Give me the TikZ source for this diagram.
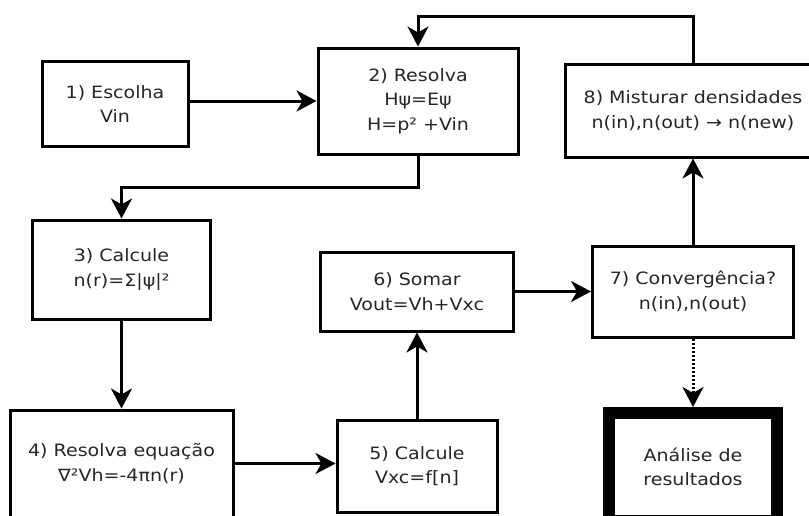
\documentclass[tikz,border=0pt]{standalone}
\usepackage{fontspec}
\setmainfont{DejaVu Sans}[FakeStretch=1.12]
\usetikzlibrary{arrows.meta}
\begin{document}
\begin{tikzpicture}[x=1pt,y=-1pt,
  box/.style={draw=black,line width=3pt,fill=white,align=center,inner sep=0pt,
    font=\fontsize{17}{24.5}\selectfont,text=black!85},
  arr/.style={line width=3pt,-{Stealth[length=20pt,width=21pt,inset=6pt]}},
  dotarr/.style={line width=3pt,dash pattern=on 2.5pt off 1.5pt,-{Stealth[length=20pt,width=21pt,inset=6pt]}}]
\useasboundingbox (0,0) rectangle (809,515);
\node[box,minimum width=146pt,minimum height=85pt] (b1) at (115,104) {1) Escolha\\Vin};
\node[box,minimum width=200pt,minimum height=106pt] (b2) at (418,101) {2) Resolva\\Hψ=Eψ\\H=p² +Vin};
\node[box,minimum width=256pt,minimum height=93pt] (b8) at (693,110.5) {8) Misturar densidades\\n(in),n(out) → n(new)};
\node[box,minimum width=178pt,minimum height=99pt] (b3) at (121.5,269.5) {3) Calcule\\n(r)=Σ|ψ|²};
\node[box,minimum width=223pt,minimum height=107pt] (b4) at (121.5,463.5) {4) Resolva equação\\∇²Vh=-4πn(r)};
\node[box,minimum width=160pt,minimum height=92pt] (b5) at (417,466) {5) Calcule\\Vxc=f[n]};
\node[box,minimum width=193pt,minimum height=79pt] (b6) at (417,291.5) {6) Somar\\Vout=Vh+Vxc};
\node[box,minimum width=201pt,minimum height=91pt] (b7) at (693,291.5) {7) Convergência?\\n(in),n(out)};
\node[box,line width=12pt,minimum width=168pt,minimum height=108pt] (ba) at (693,467) {Análise de\\resultados};
\coordinate (top) at (0,16);
\coordinate (mid) at (0,187);
\draw[arr] (b1.east |- b2.west) -- (b2.west);
\draw[arr] (b8.north) |- (b2.north |- top) -- (b2.north);
\draw[arr] (b2.south) |- (b3.north |- mid) -- (b3.north);
\draw[arr] (b3.south) -- (b4.north);
\draw[arr] (b4.east) -- (b4.east -| b5.west);
\draw[arr] (b5.north) -- (b6.south);
\draw[arr] (b6.east) -- (b6.east -| b7.west);
\draw[arr] (b7.north) -- (b8.south);
\draw[dotarr] (b7.south) -- (ba.north);
\end{tikzpicture}
\end{document}
